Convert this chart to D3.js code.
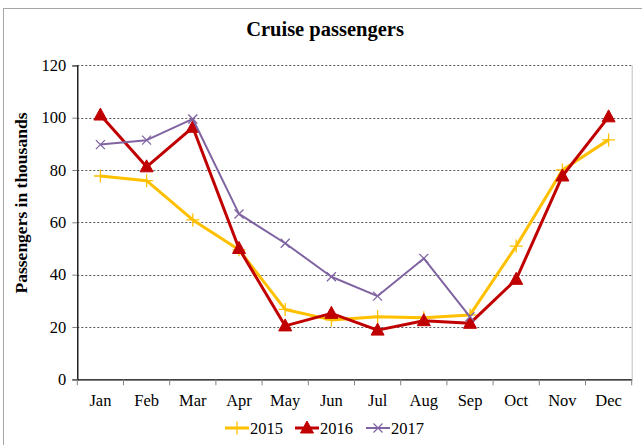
<!DOCTYPE html>
<html><head><meta charset="utf-8">
<script src="https://cdn.jsdelivr.net/npm/d3@7"></script>
<style>body{margin:0;background:#fff}svg{display:block}text{font-family:"Liberation Serif","Times New Roman",serif}</style>
</head><body><svg id="c" width="642" height="445"></svg>
<script>
const months = ["Jan","Feb","Mar","Apr","May","Jun","Jul","Aug","Sep","Oct","Nov","Dec"];
const years = ["2015","2016","2017"];
const values2015 = [77.7,75.9,60.9,49.5,26.7,22.7,23.9,23.5,24.6,50.9,80,91.5];
const values2016 = [101,81.2,96.3,50,20.4,25.2,18.8,22.4,21.4,38.2,77.7,100.3];
const values2017 = [89.7,91.4,99.5,63.2,52,39.2,31.8,46.2,23.9,null,null,null];
const yTicks = [0,20,40,60,80,100,120];
const colors = ["#FFC000","#C00000","#8064A2"];

const series = [values2015, values2016, values2017];
const svg = d3.select("#c");
const m = {l:77.3, r:631.7, t:65.3, b:379.3};

svg.append("rect").attr("x",3.5).attr("y",8.5).attr("width",700).attr("height",500)
  .attr("fill","#fff").attr("stroke","#a6a6a6").attr("stroke-width",1);

svg.append("text").attr("x",325).attr("y",36).attr("text-anchor","middle")
  .attr("font-weight","bold").attr("font-size","20.5px").text("Cruise passengers");

const x = d3.scaleBand().domain(months).range([m.l,m.r]);
const y = d3.scaleLinear().domain([0,120]).range([m.b,m.t]);

// gridlines
svg.append("g").selectAll("line").data(yTicks.filter(d=>d>0)).join("line")
  .attr("x1",m.l).attr("x2",m.r).attr("y1",d=>Math.round(y(d))+0.5).attr("y2",d=>Math.round(y(d))+0.5)
  .attr("stroke","#595959").attr("stroke-width",1).attr("stroke-dasharray","2,2");

// right border
svg.append("line").attr("x1",m.r+0.5).attr("x2",m.r+0.5).attr("y1",m.t).attr("y2",m.b)
  .attr("stroke","#bfbfbf");

// y axis
const yAxis = svg.append("g").attr("transform",`translate(${m.l},0)`)
  .call(d3.axisLeft(y).tickValues(yTicks).tickSize(5).tickPadding(6));
yAxis.select(".domain").attr("stroke","#000").attr("stroke-width",1.3);
yAxis.selectAll(".tick line").attr("stroke","#808080");
yAxis.selectAll(".tick text").attr("font-size","16.5px").attr("fill","#000");

// x axis
const xAxis = svg.append("g").attr("transform",`translate(0,${m.b})`)
  .call(d3.axisBottom(x).tickSize(0).tickPadding(15));
xAxis.select(".domain").attr("stroke","#000").attr("stroke-width",1.3);
xAxis.selectAll(".tick text").attr("font-size","16.5px").attr("fill","#000");
svg.append("g").selectAll("line").data(d3.range(months.length+1)).join("line")
  .attr("x1",i=>m.l+i*x.step()).attr("x2",i=>m.l+i*x.step())
  .attr("y1",m.b).attr("y2",m.b+6).attr("stroke","#808080");

// y label
svg.append("text").attr("transform",`translate(27,203) rotate(-90)`)
  .attr("text-anchor","middle").attr("font-weight","bold").attr("font-size","17.5px")
  .text("Passengers in thousands");

const cx = d => x(d)+x.bandwidth()/2;
const line = d3.line().defined(d=>d[1]!=null).x(d=>cx(d[0])).y(d=>y(d[1]));
const widths = [3,3,2];

function marker(g, k, px, py, c){
  if(k===0){
    g.append("path").attr("d",`M${px-6.5},${py}H${px+6.5}M${px},${py-6.5}V${py+6.5}`)
      .attr("stroke",c).attr("stroke-width",1.3).attr("fill","none");
  } else if(k===1){
    g.append("path").attr("d",`M${px},${py-7}L${px+6.5},${py+5}L${px-6.5},${py+5}Z`)
      .attr("fill",c).attr("stroke",c).attr("stroke-width",1);
  } else {
    g.append("path").attr("d",`M${px-4.5},${py-4.5}L${px+4.5},${py+4.5}M${px-4.5},${py+4.5}L${px+4.5},${py-4.5}`)
      .attr("stroke",c).attr("stroke-width",1.3).attr("fill","none");
  }
}

[0,1,2].forEach(k=>{
  const data = months.map((mo,i)=>[mo, series[k][i]]);
  const g = svg.append("g");
  g.append("path").datum(data).attr("d",line).attr("fill","none")
    .attr("stroke",colors[k]).attr("stroke-width",widths[k]).attr("stroke-linejoin","round");
  data.filter(d=>d[1]!=null).forEach(d=>marker(g,k,cx(d[0]),y(d[1]),colors[k]));
});

// legend
const legX = [225,295,366];
years.forEach((yr,k)=>{
  const g = svg.append("g");
  g.append("line").attr("x1",legX[k]).attr("x2",legX[k]+24).attr("y1",428).attr("y2",428)
    .attr("stroke",colors[k]).attr("stroke-width",widths[k]);
  marker(g,k,legX[k]+12,428,colors[k]);
  g.append("text").attr("x",legX[k]+25).attr("y",433.5).attr("font-size","16.5px").text(yr);
});
</script></body></html>
